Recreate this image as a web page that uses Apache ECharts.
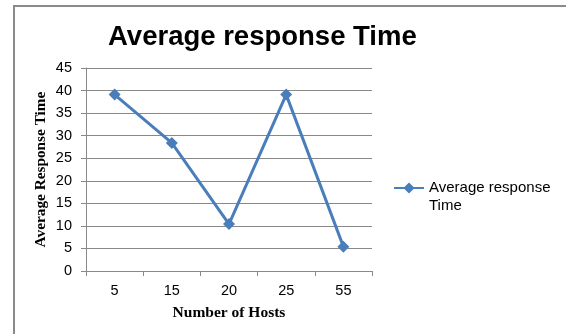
<!DOCTYPE html>
<html>
<head>
<meta charset="utf-8">
<script src="https://cdn.jsdelivr.net/npm/echarts@6/dist/echarts.min.js"></script>
<style>
html,body{margin:0;padding:0;background:#fff;}
#main{width:566px;height:334px;}
</style>
</head>
<body>
<div id="main"></div>
<script>
var categories = ['5', '15', '20', '25', '55'];
var responseTimes = [39.1, 28.4, 10.4, 39.1, 5.4];
var yTicks = { min: 0, max: 45, interval: 5 };
var chartTitle = 'Average response Time';
var seriesName = 'Average response Time';
var xTitle = 'Number of Hosts';
var yTitle = 'Average Response Time';

var chart = echarts.init(document.getElementById('main'), null, { renderer: 'canvas' });
var gray = '#898989';
var option = {
  animation: false,
  backgroundColor: '#fff',
  title: {
    text: chartTitle,
    left: 108,
    top: 24,
    padding: 0,
    textStyle: { fontFamily: 'Liberation Sans, Arial', fontWeight: 'bold', fontSize: 27.5, lineHeight: 27, color: '#000' }
  },
  graphic: [{
    type: 'rect',
    shape: { x: 14, y: 6, width: 700, height: 500 },
    style: { fill: null, stroke: '#8a8a8a', lineWidth: 2 },
    silent: true,
    z: -1
  }],
  legend: {
    left: 393,
    top: 161,
    padding: 0,
    itemWidth: 30,
    itemHeight: 14,
    data: [seriesName],
    formatter: function () { return ' \nAverage response\nTime'; },
    textStyle: { fontFamily: 'Liberation Sans, Arial', fontSize: 15, color: '#000', lineHeight: 18 }
  },
  grid: { left: 86, right: 194, top: 68, bottom: 63, containLabel: false },
  xAxis: {
    type: 'category',
    data: categories,
    boundaryGap: true,
    name: xTitle,
    nameLocation: 'middle',
    nameGap: 34,
    nameMoveOverlap: false,
    nameTextStyle: { fontFamily: 'Liberation Serif, Times New Roman', fontWeight: 'bold', fontSize: 15.5, color: '#000' },
    axisLine: { lineStyle: { color: gray, width: 1 } },
    axisTick: { show: true, length: 5, alignWithLabel: false, lineStyle: { color: gray } },
    axisLabel: { margin: 12, fontFamily: 'Liberation Sans, Arial', fontSize: 14.5, color: '#000' }
  },
  yAxis: {
    type: 'value',
    min: yTicks.min,
    max: yTicks.max,
    interval: yTicks.interval,
    name: yTitle,
    nameLocation: 'middle',
    nameRotate: 90,
    nameGap: 37,
    nameMoveOverlap: false,
    nameTextStyle: { fontFamily: 'Liberation Serif, Times New Roman', fontWeight: 'bold', fontSize: 15.3, color: '#000' },
    axisLine: { show: true, lineStyle: { color: gray, width: 1 } },
    axisTick: { show: true, length: 5, lineStyle: { color: gray } },
    splitLine: { show: true, lineStyle: { color: gray, width: 1 } },
    axisLabel: { margin: 14, fontFamily: 'Liberation Sans, Arial', fontSize: 14.5, color: '#000' }
  },
  series: [{
    name: seriesName,
    type: 'line',
    data: responseTimes,
    symbol: 'diamond',
    symbolSize: [12, 12],
    lineStyle: { color: '#4a7ebb', width: 3 },
    itemStyle: { color: '#4a7ebb' }
  }]
};
chart.setOption(option);
</script>
</body>
</html>
